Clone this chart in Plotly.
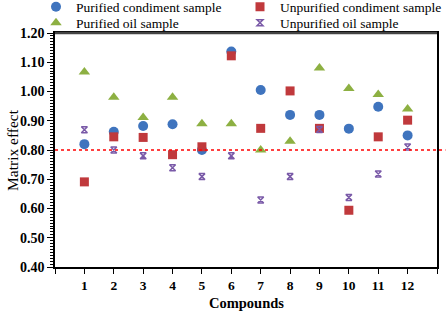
import plotly.graph_objects as go

compounds = [1, 2, 3, 4, 5, 6, 7, 8, 9, 10, 11, 12]
purified_condiment = [0.82, 0.862, 0.882, 0.888, 0.80, 1.137, 1.005, 0.92, 0.92, 0.873, 0.948, 0.85]
purified_oil = [1.067, 0.98, 0.911, 0.98, 0.89, 0.89, 0.80, 0.83, 1.08, 1.01, 0.99, 0.94]
unpurified_condiment = [0.691, 0.845, 0.843, 0.784, 0.811, 1.122, 0.874, 1.002, 0.874, 0.594, 0.845, 0.902]
unpurified_oil = [0.869, 0.80, 0.78, 0.739, 0.709, 0.78, 0.629, 0.709, 0.87, 0.638, 0.718, 0.81]
threshold = 0.80

x_tickvals = list(range(0, 14))
x_ticktext = [""] + [str(c) for c in compounds] + [""]
y_tickvals = [0.40, 0.50, 0.60, 0.70, 0.80, 0.90, 1.00, 1.10, 1.20]

serif = "Liberation Serif, Times New Roman, serif"
W, H = 447, 313

fig = go.Figure()
fig.add_trace(go.Scatter(x=compounds, y=purified_condiment, mode="markers",
                         name="Purified condiment sample", legend="legend",
                         marker=dict(symbol="circle", size=10, color="#3F74BE")))
fig.add_trace(go.Scatter(x=compounds, y=purified_oil, mode="markers",
                         name="Purified oil sample", legend="legend2",
                         marker=dict(symbol="triangle-up", size=10, color="#8DB042")))
fig.add_trace(go.Scatter(x=compounds, y=unpurified_condiment, mode="markers",
                         name="Unpurified condiment sample", legend="legend3",
                         marker=dict(symbol="square", size=9, color="#C0393C")))
fig.add_trace(go.Scatter(x=compounds, y=unpurified_oil, mode="markers",
                         name="Unpurified oil sample", legend="legend4",
                         marker=dict(symbol="hourglass-open", size=6, color="#7A5AA8",
                                     line=dict(width=1.5, color="#7A5AA8"))))

fig.add_shape(type="line", xref="paper", yref="y", x0=0, x1=1.022, y0=threshold, y1=threshold,
              line=dict(color="#FF0000", width=1.5, dash="dot"))
fig.add_shape(type="line", xref="paper", yref="paper", x0=0, x1=1, y0=1, y1=1,
              line=dict(color="#444444", width=2.5))

def leg(xpx, ypx):
    return dict(orientation="v", yanchor="middle", xanchor="left",
                xref="container", yref="container",
                x=xpx / W, y=1 - ypx / H,
                font=dict(family=serif, size=13.5, color="black"),
                bgcolor="rgba(0,0,0,0)", itemsizing="trace",
                tracegroupgap=0, borderwidth=0)

fig.add_annotation(text="Matrix effect", xref="paper", yref="paper", x=-43 / 382, y=0.5,
                   xanchor="center", yanchor="middle", textangle=-90, showarrow=False,
                   font=dict(family=serif, size=15.5, color="black"))
fig.add_annotation(text="<b>Compounds</b>", xref="paper", yref="paper", x=0.5, y=-36 / 234,
                   xanchor="center", yanchor="middle", showarrow=False,
                   font=dict(family=serif, size=14.5, color="black"))

fig.update_layout(
    width=W, height=H,
    margin=dict(l=55, r=10, t=33, b=46, autoexpand=False),
    paper_bgcolor="white", plot_bgcolor="white",
    font=dict(family=serif, color="black", size=13),
    showlegend=True,
    legend=leg(36, 7),
    legend2=leg(36, 23),
    legend3=leg(240, 7),
    legend4=leg(240, 23),
    xaxis=dict(range=[0, 13], tickmode="array", tickvals=x_tickvals, ticktext=x_ticktext,
               showgrid=False, zeroline=False, showline=True, linecolor="black", linewidth=1.5,
               mirror=True, ticks="outside", ticklen=5, tickwidth=1.2, tickcolor="black",
               automargin=False,
               tickfont=dict(family=serif, size=13.5, color="black", weight="bold")),
    yaxis=dict(range=[0.4, 1.2], tickmode="array", tickvals=y_tickvals, tickformat=".2f",
               showgrid=False, zeroline=False, showline=True, linecolor="black", linewidth=1.5,
               mirror=True, ticks="outside", ticklen=6, tickwidth=1.2, tickcolor="black",
               automargin=False,
               tickfont=dict(family=serif, size=14, color="black", weight="bold"),
               minor=dict(dtick=0.01, ticks="outside", ticklen=3, tickwidth=1, tickcolor="black", showgrid=False)),
)

fig.write_html("out.html", config={"displayModeBar": False},
               post_script="document.body.style.margin='0';")
